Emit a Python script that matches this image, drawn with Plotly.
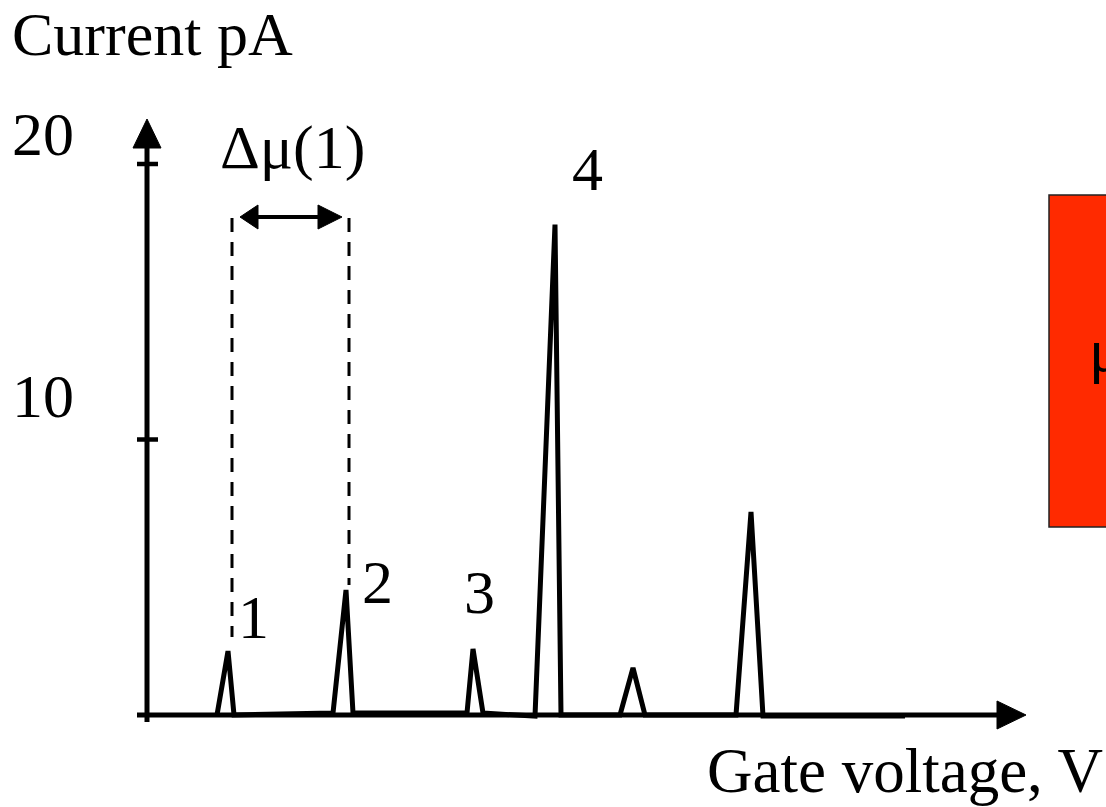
import plotly.graph_objects as go

# ---------------- data ----------------
gate_voltage = [7.0, 8.1, 8.7, 18.6, 19.9, 20.6, 32.0, 32.6, 33.6, 38.8,
                40.8, 41.4, 47.3, 48.6, 49.8, 58.9, 60.4, 61.6, 75.8]
current_pA = [0.0, 2.32, 0.0, 0.07, 4.54, 0.07, 0.07, 2.40, 0.07, -0.04,
              17.8, 0.0, 0.0, 1.71, 0.0, 0.0, 7.37, -0.04, -0.04]
y_tick_values = [10, 20]
y_tick_labels = ["10", "20"]
peak_labels = ["1", "2", "3", "4"]

# ---------------- geometry helpers ----------------
W, H = 1106, 807
X0PX, PXU = 147, 10.0      # x origin pixel, pixels per gate-voltage unit
Y0PX, PYU = 715, 27.55     # y origin pixel, pixels per pA


def X(px):
    return (px - X0PX) / PXU


def Y(py):
    return (Y0PX - py) / PYU


x_range = [X(0), X(W)]
y_range = [Y(H), Y(0)]

FONT = "Liberation Serif, Times New Roman, serif"
FS = 62

fig = go.Figure()
fig.add_trace(go.Scatter(x=gate_voltage, y=current_pA, mode="lines",
                         line=dict(color="black", width=5),
                         hoverinfo="skip", showlegend=False))

shapes = []
# y axis with arrow
shapes.append(dict(type="line", xref="x", yref="y", x0=0, x1=0, y0=Y(722), y1=Y(140),
                   line=dict(color="black", width=5)))
shapes.append(dict(type="path", xref="x", yref="y",
                   path=f"M {X(133)},{Y(148)} L {X(147)},{Y(119)} L {X(161)},{Y(148)} Z",
                   fillcolor="black", line=dict(color="black", width=1)))
# x axis with arrow
shapes.append(dict(type="line", xref="x", yref="y", x0=X(137), x1=X(1000), y0=0, y1=0,
                   line=dict(color="black", width=5)))
shapes.append(dict(type="path", xref="x", yref="y",
                   path=f"M {X(997)},{Y(701)} L {X(1026)},{Y(715)} L {X(997)},{Y(729)} Z",
                   fillcolor="black", line=dict(color="black", width=1)))
# y ticks
for v in y_tick_values:
    shapes.append(dict(type="line", xref="x", yref="y", x0=X(137), x1=X(158), y0=v, y1=v,
                       line=dict(color="black", width=4.5)))
# dashed guides at peaks 1 and 2
dash_x = [gate_voltage[1] + 0.4, gate_voltage[4] + 0.3]
dash_bottom = [Y(637), Y(585)]
for dx, db in zip(dash_x, dash_bottom):
    shapes.append(dict(type="line", xref="x", yref="y", x0=dx, x1=dx, y0=Y(218), y1=db,
                       line=dict(color="black", width=3, dash="14px,10px")))
# double arrow for delta mu
ya = Y(217)
shapes.append(dict(type="line", xref="x", yref="y", x0=X(252), x1=X(330), y0=ya, y1=ya,
                   line=dict(color="black", width=4)))
shapes.append(dict(type="path", xref="x", yref="y",
                   path=f"M {X(240)},{ya} L {X(258)},{Y(205)} L {X(258)},{Y(229)} Z",
                   fillcolor="black", line=dict(color="black", width=1)))
shapes.append(dict(type="path", xref="x", yref="y",
                   path=f"M {X(342)},{ya} L {X(318)},{Y(205)} L {X(318)},{Y(229)} Z",
                   fillcolor="black", line=dict(color="black", width=1)))
# red box at right
shapes.append(dict(type="rect", xref="x", yref="y", x0=X(1049), x1=X(1200), y0=Y(195), y1=Y(527),
                   fillcolor="#FF2A00", line=dict(color="#222222", width=1.5)))


def ann(text, px, py, xanchor="center", size=FS):
    return dict(text=text, x=X(px), y=Y(py), xref="x", yref="y", showarrow=False,
                xanchor=xanchor, yanchor="middle",
                font=dict(family=FONT, size=size, color="black"))


annotations = [
    ann("Current pA", 10, 34, "left"),
    ann("Gate voltage, V", 1105, 771, "right", 63),
    ann("Δμ(1)", 292, 147),
    ann("μ", 1087, 350, "left"),
]
for v, lab, py in zip(y_tick_values, y_tick_labels, [396, 134]):
    annotations.append(ann(lab, 43, py))
for lab, (px, py) in zip(peak_labels, [(253, 617), (377, 582), (479, 592), (587, 169)]):
    annotations.append(ann(lab, px, py))

fig.update_layout(
    width=W, height=H, autosize=False,
    margin=dict(l=0, r=0, t=0, b=0),
    paper_bgcolor="white", plot_bgcolor="white",
    xaxis=dict(range=x_range, visible=False, fixedrange=True),
    yaxis=dict(range=y_range, visible=False, fixedrange=True),
    shapes=shapes, annotations=annotations, showlegend=False,
)

fig.write_html("out.html", config={"displayModeBar": False})
